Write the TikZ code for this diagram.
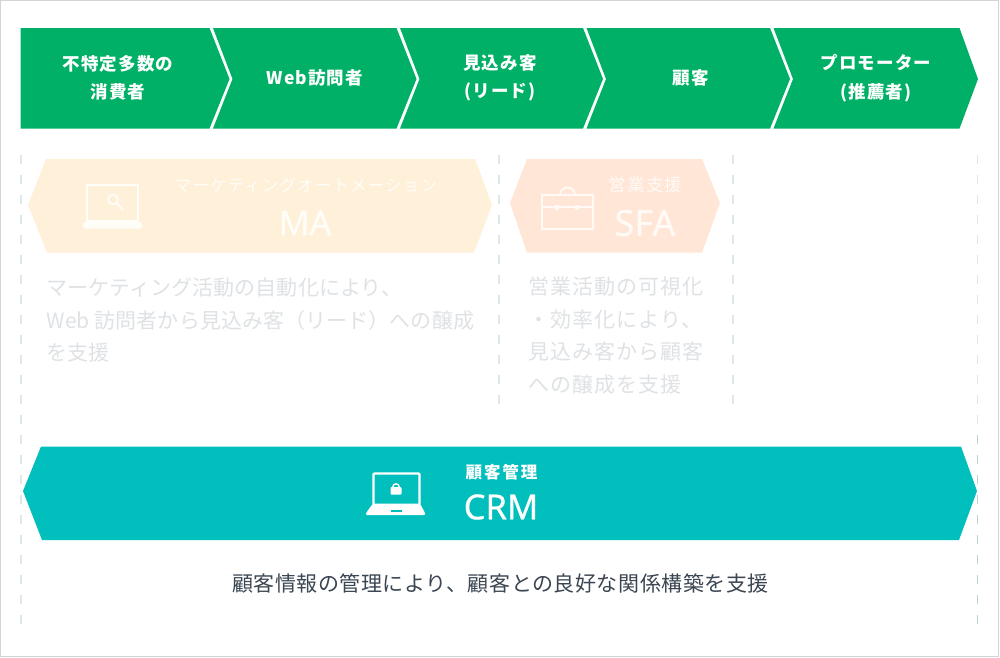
\documentclass[tikz,border=0pt]{standalone}
\usepackage{fontspec}
\setmainfont{Noto Sans CJK JP}
\newfontfamily\latinfont[FakeBold=0.6]{Noto Sans}
\definecolor{stepgreen}{HTML}{00B066}
\definecolor{maband}{HTML}{FFF0DA}
\definecolor{sfaband}{HTML}{FFE6D6}
\definecolor{crmband}{HTML}{00BFBC}
\definecolor{fadetext}{HTML}{DFE2E5}
\definecolor{darktext}{HTML}{3B4652}
\definecolor{maicon}{HTML}{FFFDF8}
\definecolor{sfaicon}{HTML}{FFFAF6}
\definecolor{dashcol}{HTML}{DCE8E9}
\definecolor{dashcolb}{HTML}{B8D5CE}
\newcommand{\sz}[2]{\fontsize{#1}{#2}\selectfont}
\tikzset{
  stepband/.style={fill=stepgreen,draw=none},
  steplabel/.style={text=white,align=center,inner sep=0pt,font=\sz{17.5}{28.5}\bfseries\addfontfeatures{LetterSpace=6}},
  fadebody/.style={text=fadetext,align=left,anchor=north west,inner sep=0pt},
  guide/.style={draw=dashcol,line width=1.1pt,dash pattern=on 9pt off 11pt},
  guideb/.style={draw=dashcolb,line width=1.1pt,dash pattern=on 9pt off 11pt},
  bigabbr/.style={inner sep=0pt},
  smalltitle/.style={inner sep=0pt},
}
\begin{document}
\begin{tikzpicture}[x=1pt,y=-1pt]
\useasboundingbox (0,0) rectangle (1000,657);
\fill[white] (0,0) rectangle (1000,657);
\draw[draw=black!17,line width=1.2pt] (0.5,0.6) rectangle (998.6,656.4);
% guides
\coordinate (g1a) at (21,155);   \coordinate (g1b) at (21,628);
\coordinate (g2a) at (499,155);  \coordinate (g2b) at (499,408);
\coordinate (g3a) at (733,155);  \coordinate (g3b) at (733,408);
\coordinate (g4a) at (977.5,155);\coordinate (g4b) at (977.5,435);
\coordinate (g4c) at (977.5,628);
\draw[guide] (g1a) -- (g1b);
\draw[guide] (g2a) -- (g2b);
\draw[guide] (g3a) -- (g3b);
\draw[guide] (g4a) -- (g4b);
\draw[guideb] (g4b) -- (g4c);
% step chevrons
\fill[stepband] (20.5,28) -- (209.5,28) -- (229.5,79) -- (209.5,128.5) -- (20.5,128.5) -- cycle;
\fill[stepband] (213,28) -- (396.5,28) -- (416.5,79) -- (396.5,128.5) -- (213,128.5) -- (232.5,79) -- cycle;
\fill[stepband] (400,28) -- (583,28) -- (603,79) -- (583,128.5) -- (400,128.5) -- (419.5,79) -- cycle;
\fill[stepband] (586.5,28) -- (770,28) -- (790,79) -- (770,128.5) -- (586.5,128.5) -- (606,79) -- cycle;
\fill[stepband] (773.5,28) -- (959.5,28) -- (978,79) -- (959.5,128.5) -- (773.5,128.5) -- (793,79) -- cycle;
\node[steplabel] (s1) at (118,78) {不特定多数の\\消費者};
\node[steplabel] (s2) at (315,78) {Web訪問者};
\node[steplabel] (s3) at (500,78) {見込み客\\(リード)};
\node[steplabel] (s4) at (691,78) {顧客};
\node[steplabel] (s5) at (876,78) {プロモーター\\(推薦者)};
% MA
\fill[maband] (46,159) -- (475,159) -- (492,205) -- (474,252.5) -- (47,252.5) -- (28,205) -- cycle;
\node[smalltitle,text=maicon,font=\sz{16.5}{17}\addfontfeatures{LetterSpace=7}] (matitle) at (306,185) {マーケティングオートメーション};
\node[bigabbr,text=maicon,font=\sz{34}{34}\latinfont] (ma) at (305,223) {MA};
\draw[draw=maicon,line width=2.6pt] (87,185) rectangle (138,221);
\fill[maicon,rounded corners=2pt] (83,222) rectangle (142,228.5);
\draw[draw=maicon,line width=1.8pt] (113,199.5) circle (5);
\draw[draw=maicon,line width=2pt] (116.5,203) -- (123,210);
% SFA
\fill[sfaband] (527,159) -- (702,159) -- (720,203) -- (702,252.5) -- (527,252.5) -- (510,203) -- cycle;
\node[smalltitle,text=sfaicon,font=\sz{17.5}{18}\addfontfeatures{LetterSpace=7}] (sfatitle) at (645.5,185) {営業支援};
\node[bigabbr,text=sfaicon,font=\sz{36}{36}\latinfont] (sfa) at (645,223) {SFA};
\draw[draw=sfaicon,line width=2.2pt] (542,195) rectangle (593,229);
\draw[draw=sfaicon,line width=1.6pt] (542,207) -- (593,207);
\fill[sfaicon] (555,205) rectangle (559,209.5) (575,205) rectangle (579,209.5);
\draw[draw=sfaicon,line width=1.8pt] (560,195) arc[start angle=180,end angle=360,radius=7.5];
% MA and SFA bodies
\node[fadebody,font=\sz{21}{32.7}\addfontfeatures{LetterSpace=0.4}] (mabody) at (46.5,277.5)
 {マーケティング活動の自動化により、\\Web 訪問者から見込み客（リード）への醸成\\を支援};
\node[fadebody,font=\sz{21}{32.7}\addfontfeatures{LetterSpace=5}] (sfabody) at (528,276.5)
 {営業活動の可視化\\・効率化により、\\見込み客から顧客\\への醸成を支援};
% CRM
\fill[crmband] (41,446.5) -- (961,446.5) -- (977,491) -- (959,540) -- (42,540) -- (23,491) -- cycle;
\node[inner sep=0pt,text=white,font=\sz{16.5}{17}\bfseries\addfontfeatures{LetterSpace=12}] (crmtitle) at (501.5,472) {顧客管理};
\node[bigabbr,text=white,font=\sz{34.5}{35}\latinfont] (crm) at (501,507) {CRM};
\draw[white,line width=2.2pt,rounded corners=1pt] (373.5,504) -- (373.5,473.5) -- (419.5,473.5) -- (419.5,504);
\fill[white,rounded corners=1pt] (373,503.5) -- (420,503.5) -- (425,513) -- (425,515) -- (366,515) -- (366,513) -- cycle;
\fill[crmband] (390.5,510) rectangle (402,511.5);
\fill[white,rounded corners=1pt] (390.5,487) rectangle (401.5,494.5);
\draw[white,line width=1.4pt] (392.8,487) arc[start angle=180,end angle=360,radius=3.2];
% CRM body
\node[inner sep=0pt,text=darktext,font=\sz{21}{21}\addfontfeatures{LetterSpace=2.6}] (crmbody) at (500.5,583.5)
 {顧客情報の管理により、顧客との良好な関係構築を支援};
\end{tikzpicture}
\end{document}
